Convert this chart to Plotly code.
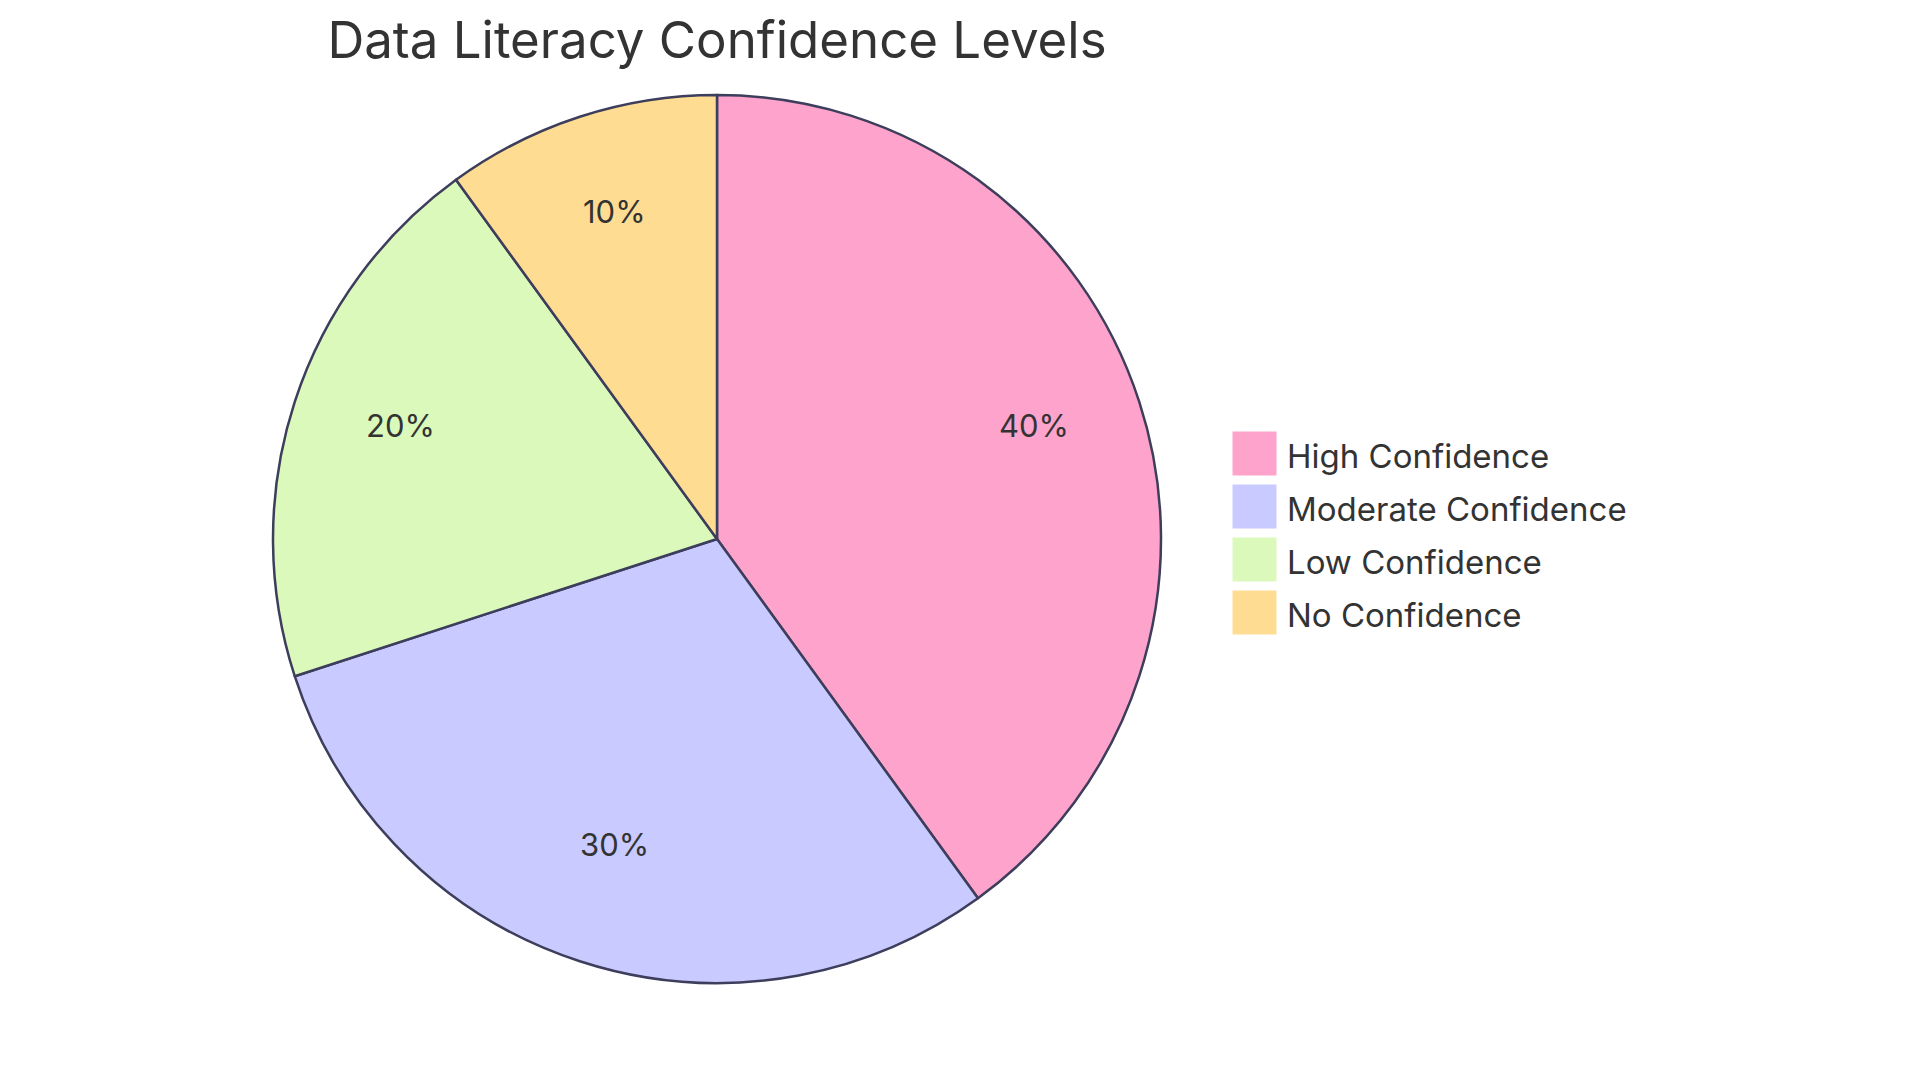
import numpy as np
import plotly.graph_objects as go

categories = ["High Confidence", "Moderate Confidence", "Low Confidence", "No Confidence"]
shares = [40, 30, 20, 10]
slice_colors = ["#FEA3CC", "#C9CAFF", "#DBF9BB", "#FEDD93"]

FONT = "Inter, Noto Sans, sans-serif"
TEXT = "#333333"
EDGE = "#3D3D5C"
W, H = 1920, 1080

# pie geometry in pixels (centre measured from top-left), radius
cx_px, cy_px, r_px = 709, 531, 444

fig = go.Figure()
fig.add_trace(
    go.Pie(
        labels=categories,
        values=shares,
        sort=False,
        direction="clockwise",
        rotation=0,
        marker=dict(colors=slice_colors, line=dict(color=EDGE, width=2.5)),
        textinfo="none",
        domain=dict(
            x=[(cx_px - r_px) / W, (cx_px + r_px) / W],
            y=[(H - cy_px - r_px) / H, (H - cy_px + r_px) / H],
        ),
        showlegend=False,
        hovertemplate="%{label}: %{value}<extra></extra>",
    )
)

# percentage labels at 3/4 of the radius, on each slice's mid angle
total = sum(shares)
cum = np.cumsum([0] + shares[:-1])
for start, v in zip(cum, shares):
    theta = 2 * np.pi * (start + v / 2) / total
    fig.add_annotation(
        xref="paper", yref="paper",
        x=(cx_px + 0.75 * r_px * np.sin(theta)) / W,
        y=(H - cy_px + 11 + 0.75 * r_px * np.cos(theta)) / H,
        text=f"{100 * v / total:.0f}%", showarrow=False,
        xanchor="center", yanchor="middle",
        font=dict(family=FONT, size=31, color=TEXT),
    )

# legend drawn by hand so the swatches can be as large as in the reference
x0, y_top, box, step = 1224, 423, 45, 53
for i, (name, col) in enumerate(zip(categories, slice_colors)):
    yt = y_top + i * step
    fig.add_shape(
        type="rect", xref="paper", yref="paper",
        x0=x0 / W, x1=(x0 + box) / W, y0=1 - (yt + box) / H, y1=1 - yt / H,
        fillcolor=col, line=dict(color="white", width=1),
    )
    fig.add_annotation(
        xref="paper", yref="paper", x=(x0 + box + 8) / W, y=1 - (yt + box / 2 + 2) / H,
        text=name, showarrow=False, xanchor="left", yanchor="middle",
        font=dict(family=FONT, size=33, color=TEXT),
    )

fig.update_layout(
    width=W,
    height=H,
    margin=dict(l=0, r=0, t=0, b=0),
    paper_bgcolor="white",
    plot_bgcolor="white",
    title=dict(
        text="Data Literacy Confidence Levels",
        x=709 / W, xanchor="center", y=1 - 32 / H, yanchor="middle",
        font=dict(family=FONT, size=51, color=TEXT),
    ),
)

fig.write_html("out.html")
